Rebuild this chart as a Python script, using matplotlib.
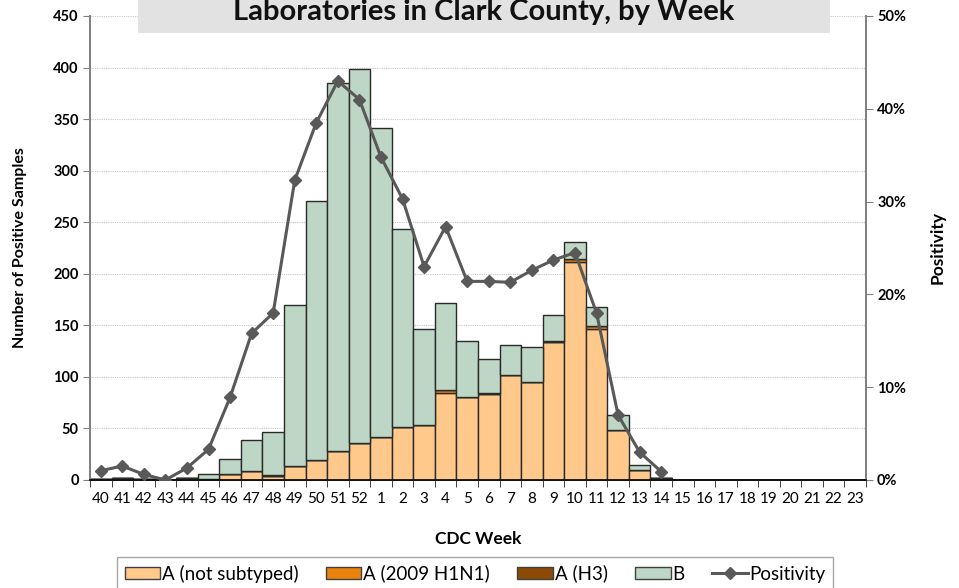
import matplotlib
matplotlib.use("Agg")
import matplotlib.pyplot as plt
import numpy as np
from matplotlib.patches import Rectangle
from matplotlib.lines import Line2D
from matplotlib.ticker import PercentFormatter

plt.rcParams['font.family'] = ['Lato', 'DejaVu Sans']

# CDC weeks 40..52, then 1..23
weeks = [str(w) for w in range(40, 53)] + [str(w) for w in range(1, 24)]

# counts per week (36 weeks, zeros after week 14)
a_not_subtyped = [1, 2, 1, 0, 2, 1, 6, 9, 4, 14, 19, 28, 36, 42, 51, 53, 84, 80, 83, 102, 95, 134, 211, 146, 48, 10, 2,
                  0, 0, 0, 0, 0, 0, 0, 0, 0]
a_h1n1 = [0, 0, 0, 0, 0, 0, 0, 0, 0, 0, 0, 0, 0, 0, 0, 0, 3, 0, 0, 0, 0, 0, 3, 3, 0, 0, 0,
          0, 0, 0, 0, 0, 0, 0, 0, 0]
a_h3 = [0, 0, 0, 0, 0, 0, 0, 0, 1, 0, 0, 0, 0, 0, 0, 0, 0, 0, 1, 0, 0, 1, 0, 0, 0, 0, 0,
        0, 0, 0, 0, 0, 0, 0, 0, 0]
b = [0, 0, 0, 0, 0, 5, 14, 30, 42, 156, 252, 357, 363, 299, 192, 93, 85, 55, 33, 29, 34, 25, 17, 19, 15, 5, 0,
     0, 0, 0, 0, 0, 0, 0, 0, 0]
# percent positive, weeks 40..14
positivity = [1.0, 1.5, 0.6, 0.0, 1.3, 3.3, 8.9, 15.8, 18.0, 32.3, 38.5, 43.0, 41.0, 34.8, 30.3, 23.0, 27.3,
              21.4, 21.4, 21.3, 22.6, 23.7, 24.5, 18.0, 7.0, 3.0, 0.9]

c_ans = '#FFC98B'
c_h1 = '#E8820C'
c_h3 = '#8B4A06'
c_b = '#BDD6C5'
c_line = '#595959'
edge = '#2a2a2a'

fig = plt.figure(figsize=(9.59, 5.88), dpi=100)
ax = fig.add_axes([0.0938, 0.1837, 0.8092, 0.7891])
ax2 = ax.twinx()

x = np.arange(len(weeks))
s1 = np.array(a_not_subtyped)
s2 = np.array(a_h1n1)
s3 = np.array(a_h3)
s4 = np.array(b)

kw = dict(width=1.0, edgecolor=edge, linewidth=1.0, zorder=3)
ax.bar(x, s1, color=c_ans, **kw)
ax.bar(x, s2, bottom=s1, color=c_h1, **kw)
ax.bar(x, s3, bottom=s1 + s2, color=c_h3, **kw)
ax.bar(x, s4, bottom=s1 + s2 + s3, color=c_b, **kw)

ax2.plot(np.arange(len(positivity)), np.array(positivity) / 100, color=c_line, lw=2.2,
         marker='D', ms=6.5, mfc=c_line, mec=c_line, zorder=5)

ax.set_xlim(-0.5, len(weeks) - 0.5)
ax.set_ylim(0, 450)
ax.set_yticks(np.arange(0, 451, 50))
ax2.set_ylim(0, 0.5)
ax2.set_yticks(np.arange(0, 0.51, 0.1))
ax2.yaxis.set_major_formatter(PercentFormatter(1.0, decimals=0))

ax.set_xticks(x)
ax.set_xticklabels(weeks, fontsize=11)
ax.set_xticks(np.arange(-0.5, len(weeks), 1), minor=True)
ax.tick_params(axis='x', which='major', length=0, pad=9)
ax.tick_params(axis='x', which='minor', length=5, color='#222222', direction='out')
ax.tick_params(axis='y', length=5, color='#808080', labelsize=10.5, pad=3)
ax2.tick_params(axis='y', length=5, color='#808080', labelsize=10.5, pad=3)
for lab in ax.get_yticklabels() + ax2.get_yticklabels():
    lab.set_fontweight('bold')

ax.yaxis.grid(True, linestyle=(0, (1, 1)), color='#c8c8c8', linewidth=0.8, zorder=0)
ax.set_axisbelow(True)

for a in (ax, ax2):
    a.spines['top'].set_visible(False)
    a.spines['left'].set_color('#808080')
    a.spines['right'].set_color('#808080')
    a.spines['bottom'].set_color('#111111')
    a.spines['left'].set_linewidth(1.3)
    a.spines['right'].set_linewidth(1.3)
    a.spines['bottom'].set_linewidth(1.3)

ax.set_ylabel('Number of Positive Samples', fontsize=11.5, fontweight='bold', labelpad=19)
ax2.set_ylabel('Positivity', fontsize=12.5, fontweight='bold', labelpad=17)
ax.set_xlabel('CDC Week', fontsize=12.5, fontweight='bold', labelpad=18)

# title box (cut off at the top)
fig.patches.append(Rectangle((138 / 959, 1 - 33 / 588), (830 - 138) / 959, 40 / 588,
                             transform=fig.transFigure, facecolor='#E2E2E2', edgecolor='none', zorder=0))
fig.text(484 / 959, 1 - 20 / 588, 'Laboratories in Clark County, by Week', ha='center', va='baseline',
         fontsize=21, fontweight='bold', color='#111111')

handles = [
    Rectangle((0, 0), 1, 1, facecolor=c_ans, edgecolor='#404040', lw=1),
    Rectangle((0, 0), 1, 1, facecolor=c_h1, edgecolor='#404040', lw=1),
    Rectangle((0, 0), 1, 1, facecolor=c_h3, edgecolor='#404040', lw=1),
    Rectangle((0, 0), 1, 1, facecolor=c_b, edgecolor='#404040', lw=1),
    Line2D([], [], color=c_line, lw=2.2, marker='D', ms=6.5),
]
labels = ['A (not subtyped)', 'A (2009 H1N1)', 'A (H3)', 'B', 'Positivity']
leg = fig.legend(handles, labels, loc='upper center', bbox_to_anchor=(475 / 959, 1 - 557 / 588), ncol=5,
                 fontsize=13.5, frameon=True, fancybox=False, edgecolor='#909090', handlelength=1.9,
                 handleheight=0.6, handletextpad=0.1, columnspacing=1.45, borderpad=0.4, borderaxespad=0)
leg.get_frame().set_linewidth(1.0)

fig.savefig('out.png', dpi=100)
